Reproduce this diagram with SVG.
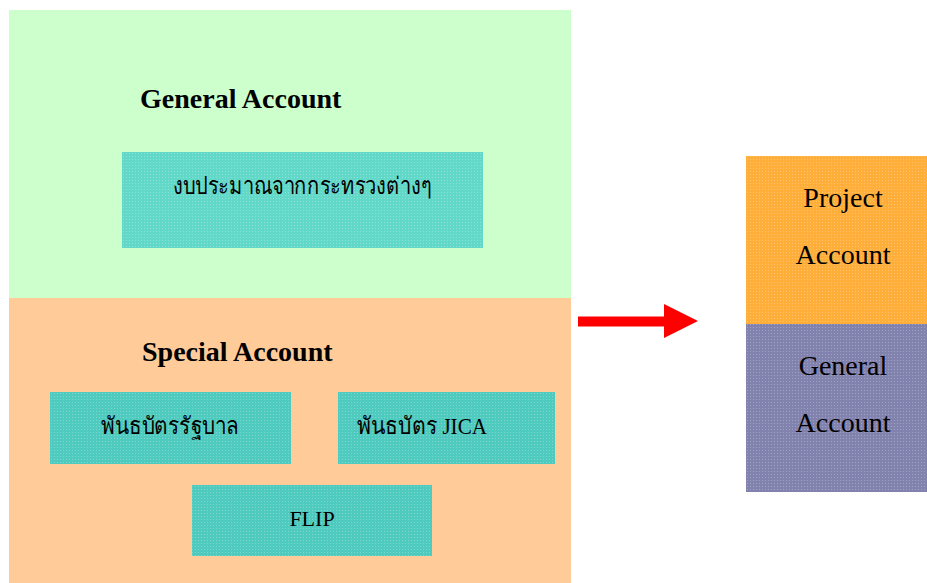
<svg xmlns="http://www.w3.org/2000/svg" width="927" height="583" viewBox="0 0 927 583">
<style>
.h{font-family:"Liberation Serif","DejaVu Serif",serif;font-weight:bold;font-size:28px;fill:#000}
.t{font-family:"Liberation Serif","DejaVu Serif","Noto Sans","DejaVu Sans",serif;font-size:24px;fill:#000;text-anchor:middle}
.r{font-family:"Liberation Serif","DejaVu Serif",serif;font-size:28px;fill:#000;text-anchor:middle}
.box1{fill:#62D8C8}
.box2{fill:#4FCABF}
</style>
<defs>
<pattern id="dots" width="3" height="3" patternUnits="userSpaceOnUse">
<rect width="1" height="1" fill="#fff" fill-opacity="0.25"/>
</pattern>
</defs>
<rect width="927" height="583" fill="#fff"/>
<g id="general-account">
<rect x="9" y="10" width="562" height="288" fill="#CCFFCC"/>
<text class="h" x="140" y="108">General Account</text>
</g>
<g id="general-budget">
<rect class="box1" x="122" y="152" width="361" height="96"/>
<rect x="122" y="152" width="361" height="96" fill="url(#dots)"/>
<text class="t" x="302" y="194" textLength="259" lengthAdjust="spacingAndGlyphs">งบประมาณจากกระทรวงต่างๆ</text>
</g>
<g id="special-account">
<rect x="9" y="298" width="562" height="285" fill="#FFCC99"/>
<text class="h" x="142" y="361">Special Account</text>
</g>
<g id="gov-bond">
<rect class="box2" x="50" y="392" width="241" height="72"/>
<rect x="50" y="392" width="241" height="72" fill="url(#dots)"/>
<text class="t" x="170" y="434" textLength="138" lengthAdjust="spacingAndGlyphs">พันธบัตรรัฐบาล</text>
</g>
<g id="jica-bond">
<rect class="box2" x="338" y="392" width="217" height="72"/>
<rect x="338" y="392" width="217" height="72" fill="url(#dots)"/>
<text class="t" x="422" y="434" textLength="130" lengthAdjust="spacingAndGlyphs">พันธบัตร JICA</text>
</g>
<g id="flip">
<rect class="box2" x="192" y="485" width="240" height="71"/>
<rect x="192" y="485" width="240" height="71" fill="url(#dots)"/>
<text class="t" x="312" y="526" style="font-size:22px">FLIP</text>
</g>
<g id="connectors">
<polygon points="578,316.5 664,316.5 664,304 698,321 664,338 664,326.5 578,326.5" fill="#FF0000"/>
</g>
<g id="project-account">
<rect x="746" y="156" width="181" height="168" fill="#FFAE3A"/>
<rect x="746" y="156" width="181" height="168" fill="url(#dots)"/>
<text class="r" x="843" y="207">Project</text>
<text class="r" x="843" y="264">Account</text>
</g>
<g id="general-account-right">
<rect x="746" y="324" width="181" height="168" fill="#8282AE"/>
<rect x="746" y="324" width="181" height="168" fill="url(#dots)"/>
<text class="r" x="843" y="375">General</text>
<text class="r" x="843" y="432">Account</text>
</g>
</svg>
